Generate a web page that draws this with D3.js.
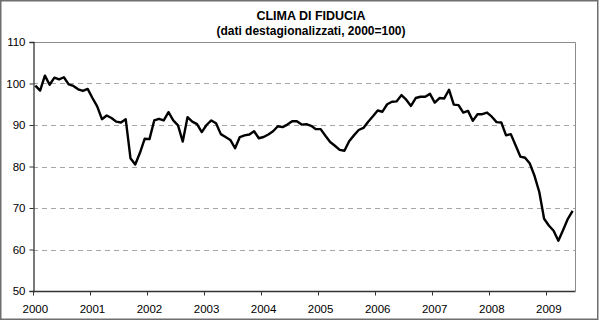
<!DOCTYPE html>
<html>
<head>
<meta charset="utf-8">
<script src="https://cdn.jsdelivr.net/npm/d3@7"></script>
<style>
  html, body { margin: 0; padding: 0; background: #fff; }
  svg { display: block; font-family: "Liberation Sans", Arial, sans-serif; }
</style>
</head>
<body>
<svg id="chart" width="600" height="321"></svg>
<script>
// ---- data (monthly, seasonally adjusted, 2000=100) ----
const title = "CLIMA DI FIDUCIA";
const subtitle = "(dati destagionalizzati, 2000=100)";
const years = [2000, 2001, 2002, 2003, 2004, 2005, 2006, 2007, 2008, 2009];
const y2000 = [99.5, 98.3, 101.9, 99.7, 101.4, 101.0, 101.5, 99.8, 99.4, 98.6, 98.2, 98.7];
const y2001 = [96.5, 94.5, 91.4, 92.3, 91.7, 90.8, 90.6, 91.4, 82.0, 80.5, 83.3, 86.7];
const y2002 = [86.6, 91.1, 91.5, 91.1, 93.1, 91.1, 89.9, 86.0, 91.9, 90.8, 90.2, 88.3];
const y2003 = [90.0, 91.1, 90.4, 87.8, 87.1, 86.4, 84.4, 87.1, 87.5, 87.7, 88.5, 86.8];
const y2004 = [87.1, 87.7, 88.5, 89.7, 89.5, 90.1, 90.9, 90.9, 90.1, 90.2, 89.8, 89.0];
const y2005 = [89.0, 87.4, 85.9, 85.0, 84.0, 83.8, 86.1, 87.5, 88.8, 89.3, 90.8, 92.1];
const y2006 = [93.5, 93.2, 95.0, 95.6, 95.7, 97.2, 96.1, 94.6, 96.5, 96.8, 96.8, 97.5];
const y2007 = [95.4, 96.5, 96.4, 98.5, 94.9, 94.8, 93.0, 93.4, 91.0, 92.6, 92.6, 93.0];
const y2008 = [92.0, 90.7, 90.6, 87.5, 87.8, 85.1, 82.4, 82.1, 80.7, 77.7, 73.8, 67.4];
const y2009 = [65.8, 64.5, 62.1, 64.7, 67.4, 69.3];
const yTicks = [50, 60, 70, 80, 90, 100, 110];
const gridValues = [60, 70, 80, 90, 100];

const series = [y2000, y2001, y2002, y2003, y2004, y2005, y2006, y2007, y2008, y2009];
const months = [];
series.forEach((arr, yi) => arr.forEach((v, m) => months.push({ key: years[yi] + "-" + (m + 1), year: years[yi], m, v })));

// ---- layout ----
const plot = { left: 33, right: 575, top: 42, bottom: 291 };
const svg = d3.select("#chart");

// outer border
svg.append("rect").attr("x", 0.75).attr("y", 0.75).attr("width", 597).attr("height", 318.5)
  .attr("fill", "#fff").attr("stroke", "#6e6e6e").attr("stroke-width", 1.5);

const x = d3.scaleBand().domain(months.map(d => d.key)).range([plot.left, plot.right]).paddingInner(0).paddingOuter(0);
const y = d3.scaleLinear().domain([50, 110]).range([plot.bottom, plot.top]);

// plot frame (top/right)
svg.append("path")
  .attr("d", `M${plot.left},${plot.top + 0.5}H${plot.right + 0.5}V${plot.bottom}`)
  .attr("fill", "none").attr("stroke", "#8c8c8c").attr("stroke-width", 1);

// gridlines
svg.append("g").selectAll("line").data(gridValues).join("line")
  .attr("x1", plot.left).attr("x2", plot.right)
  .attr("y1", d => Math.round(y(d)) + 0.5).attr("y2", d => Math.round(y(d)) + 0.5)
  .attr("stroke", "#a6a6a6").attr("stroke-width", 1).attr("stroke-dasharray", "5,4");

// y axis
const yAxis = d3.axisLeft(y).tickValues(yTicks).tickSize(4).tickPadding(4).tickFormat(d3.format("d"));
const gy = svg.append("g").attr("transform", `translate(${plot.left + 0.5},0)`).call(yAxis);
gy.select(".domain").attr("stroke", "#333").attr("stroke-width", 1.3);
gy.selectAll(".tick line").attr("stroke", "#333");
gy.selectAll("text").attr("font-size", "11.5px").attr("fill", "#000").attr("font-family", "Liberation Sans, Arial, sans-serif");

// x axis: ticks at year boundaries, labels centered on January slots
const janKeys = years.map(yr => yr + "-1");
const gx = svg.append("g").attr("transform", `translate(0,${plot.bottom + 0.5})`);
gx.append("line").attr("x1", plot.left).attr("x2", plot.right + 0.5).attr("y1", 0).attr("y2", 0)
  .attr("stroke", "#333").attr("stroke-width", 1.3);
gx.selectAll("line.tk").data(janKeys).join("line").attr("class", "tk")
  .attr("x1", d => Math.round(x(d)) + 0.5).attr("x2", d => Math.round(x(d)) + 0.5)
  .attr("y1", 0).attr("y2", 4).attr("stroke", "#333");
gx.selectAll("text").data(years).join("text")
  .attr("x", d => x(d + "-1") + x.bandwidth() / 2)
  .attr("y", 21)
  .attr("text-anchor", "middle").attr("font-size", "11.5px").attr("fill", "#000")
  .text(d => d);

// line
const line = d3.line().x(d => x(d.key) + x.bandwidth() / 2).y(d => y(d.v)).curve(d3.curveLinear);
svg.append("path").datum(months).attr("d", line)
  .attr("fill", "none").attr("stroke", "#000").attr("stroke-width", 2.4).attr("stroke-linejoin", "round");

// titles
svg.append("text").attr("x", 311).attr("y", 19.5).attr("text-anchor", "middle")
  .attr("font-size", "12.5px").attr("font-weight", "bold").text(title);
svg.append("text").attr("x", 311).attr("y", 35).attr("text-anchor", "middle")
  .attr("font-size", "12px").attr("font-weight", "bold").text(subtitle);
</script>
</body>
</html>
